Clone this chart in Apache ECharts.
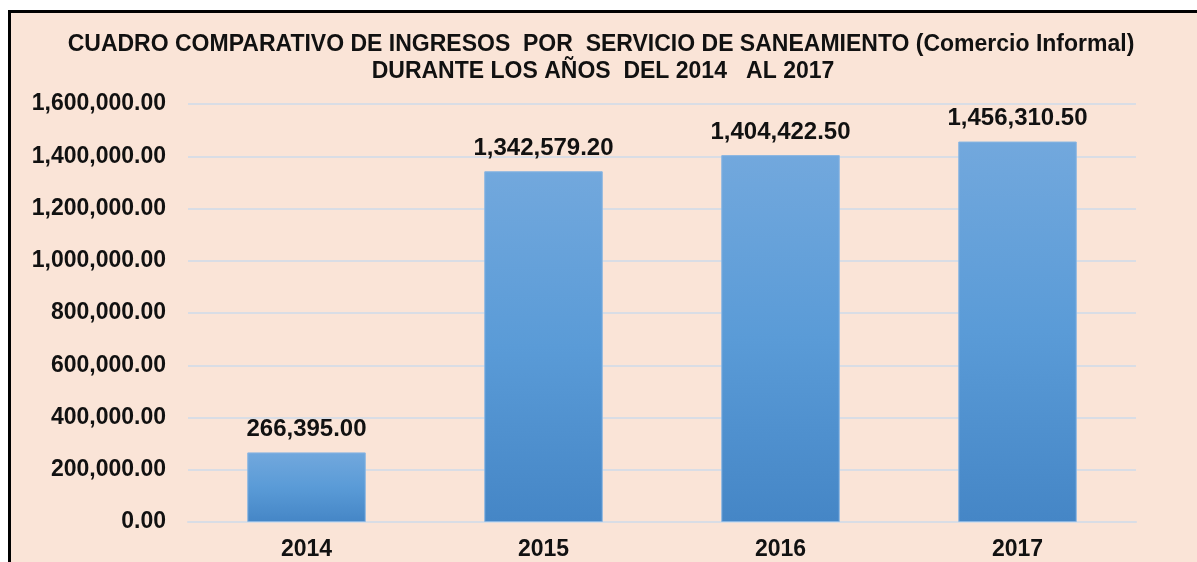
<!DOCTYPE html>
<html>
<head>
<meta charset="utf-8">
<script src="https://cdn.jsdelivr.net/npm/echarts@6/dist/echarts.min.js"></script>
<style>
body{margin:0;background:#fff;overflow:hidden;}
#main{position:absolute;left:8px;top:10px;width:1300px;height:620px;border:3px solid #000;background:#FAE4D7;}
</style>
</head>
<body>
<div id="main"></div>
<script>
var years = ['2014', '2015', '2016', '2017'];
var ingresos = [266395.00, 1342579.20, 1404422.50, 1456310.50];
var titleLine1 = 'CUADRO COMPARATIVO DE INGRESOS  POR  SERVICIO DE SANEAMIENTO (Comercio Informal)';
var titleLine2 = 'DURANTE LOS AÑOS  DEL 2014   AL 2017';

function fmt(v){
    return Number(v).toLocaleString('en-US', {minimumFractionDigits: 2, maximumFractionDigits: 2});
}

var chart = echarts.init(document.getElementById('main'));
var option = {
    animation: false,
    textStyle: {fontFamily: 'Liberation Sans, Arial, sans-serif'},
    title: [
        {
            text: titleLine1,
            left: 590,
            top: 20,
            padding: 0,
            textAlign: 'center',
            textStyle: {fontSize: 23, fontWeight: 'bold', color: '#111', fontFamily: 'Liberation Sans'}
        },
        {
            text: titleLine2,
            left: 592,
            top: 47,
            padding: 0,
            textAlign: 'center',
            textStyle: {fontSize: 23, fontWeight: 'bold', color: '#111', fontFamily: 'Liberation Sans'}
        }
    ],
    grid: {
        left: 177,
        right: 175,
        top: 91,
        bottom: 111,
        containLabel: false
    },
    xAxis: {
        type: 'category',
        data: years,
        axisLine: {lineStyle: {color: '#D9DDE5', width: 2}},
        axisTick: {show: false},
        axisLabel: {
            margin: 16,
            color: '#111',
            fontSize: 23,
            fontWeight: 'bold',
            fontFamily: 'Liberation Sans'
        }
    },
    yAxis: {
        type: 'value',
        min: 0,
        max: 1600000,
        interval: 200000,
        axisLine: {show: false},
        axisTick: {show: false},
        splitLine: {lineStyle: {color: '#D9DDE5', width: 2}},
        axisLabel: {
            margin: 22,
            color: '#111',
            fontSize: 23,
            fontWeight: 'bold',
            fontFamily: 'Liberation Sans',
            formatter: function(v){ return fmt(v); }
        }
    },
    series: [
        {
            type: 'bar',
            data: ingresos,
            barWidth: '50%',
            itemStyle: {
                color: new echarts.graphic.LinearGradient(0, 0, 0, 1, [
                    {offset: 0, color: '#72A8DD'},
                    {offset: 0.5, color: '#5A9BD7'},
                    {offset: 1, color: '#4586C6'}
                ]),
                borderColor: '#8AB6E2',
                borderWidth: 1
            },
            label: {
                show: true,
                position: 'top',
                distance: 11,
                color: '#111',
                fontSize: 24,
                fontWeight: 'bold',
                fontFamily: 'Liberation Sans',
                formatter: function(p){ return fmt(p.value); }
            }
        }
    ]
};
chart.setOption(option);
</script>
</body>
</html>
